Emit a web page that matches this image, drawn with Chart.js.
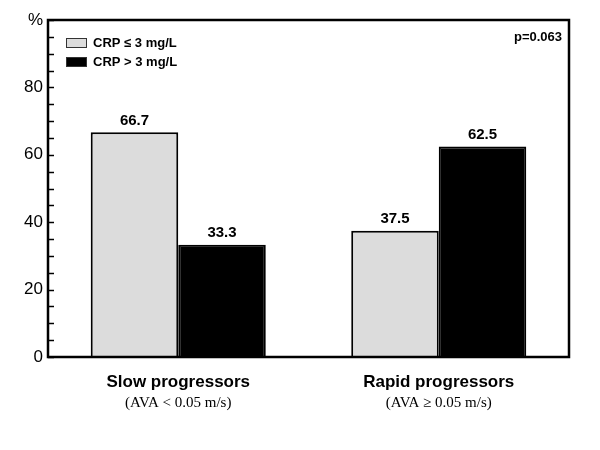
<!DOCTYPE html>
<html>
<head>
<meta charset="utf-8">
<script src="https://cdn.jsdelivr.net/npm/chart.js@4"></script>
<style>
html,body{margin:0;padding:0;background:#fff;}
#wrap{width:600px;height:450px;}
</style>
</head>
<body>
<div id="wrap"><canvas id="c" width="600" height="450"></canvas></div>
<script>
const categories = ['Slow progressors', 'Rapid progressors'];
const subLabels = ['(AVA < 0.05 m/s)', '(AVA \u2265 0.05 m/s)'];
const seriesNames = ['CRP \u2264 3 mg/L', 'CRP > 3 mg/L'];
const lowCRP = [66.7, 37.5];
const highCRP = [33.3, 62.5];
const yTickLabels = {0:'0', 20:'20', 40:'40', 60:'60', 80:'80', 100:'%'};
const pValue = 'p=0.063';

const SANS = '"Liberation Sans", Arial, Helvetica, sans-serif';
const SERIF = '"Liberation Serif", "Times New Roman", serif';

const decor = {
  id: 'decor',
  afterDatasetsDraw(chart) {
    const ctx = chart.ctx, a = chart.chartArea;
    const y = chart.scales.y, x = chart.scales.x;
    ctx.save();
    // inner tick marks
    ctx.strokeStyle = '#000';
    ctx.lineWidth = 1.5;
    for (let v = 0; v <= 100; v += 5) {
      const py = Math.round(y.getPixelForValue(v)) + 0.5;
      ctx.beginPath();
      ctx.moveTo(a.left, py);
      ctx.lineTo(a.left + 6, py);
      ctx.stroke();
    }
    // frame
    ctx.lineWidth = 2.5;
    ctx.strokeRect(a.left, a.top, a.right - a.left, a.bottom - a.top);
    // legend (inside plot, top-left)
    chart.data.datasets.forEach((ds, i) => {
      const bx = a.left + 18.5, by = a.top + 18.5 + i * 19;
      ctx.fillStyle = ds.backgroundColor;
      ctx.fillRect(bx, by, 20, 9);
      ctx.lineWidth = 1;
      ctx.strokeStyle = '#333';
      ctx.strokeRect(bx, by, 20, 9);
      ctx.fillStyle = '#000';
      ctx.font = 'bold 13px ' + SANS;
      ctx.textAlign = 'left';
      ctx.textBaseline = 'middle';
      ctx.fillText(ds.label, bx + 26.5, by + 5);
    });
    // value labels
    ctx.fillStyle = '#000';
    ctx.font = 'bold 15px ' + SANS;
    ctx.textAlign = 'center';
    ctx.textBaseline = 'bottom';
    chart.data.datasets.forEach((ds, i) => {
      chart.getDatasetMeta(i).data.forEach((bar, j) => {
        ctx.fillText(ds.data[j].toFixed(1), bar.x, bar.y - 4);
      });
    });
    // p value
    ctx.font = 'bold 13px ' + SANS;
    ctx.textAlign = 'right';
    ctx.textBaseline = 'middle';
    ctx.fillText(pValue, a.right - 7, a.top + 17);
    // sub labels
    ctx.font = '15px ' + SERIF;
    ctx.textAlign = 'center';
    ctx.textBaseline = 'middle';
    subLabels.forEach((s, i) => {
      ctx.fillText(s, x.getPixelForValue(i), a.bottom + 46);
    });
    ctx.restore();
  }
};

new Chart(document.getElementById('c'), {
  type: 'bar',
  data: {
    labels: categories,
    datasets: [
      { label: seriesNames[0], data: lowCRP, backgroundColor: '#dcdcdc', borderColor: '#000', borderWidth: 2, borderSkipped: 'bottom' },
      { label: seriesNames[1], data: highCRP, backgroundColor: '#000', borderColor: '#000', borderWidth: 2, borderSkipped: 'bottom' }
    ]
  },
  options: {
    responsive: false,
    animation: false,
    devicePixelRatio: 1,
    layout: { padding: { top: 20, right: 31, left: 0, bottom: 0 } },
    datasets: { bar: { categoryPercentage: 0.672, barPercentage: 1 } },
    plugins: {
      legend: { display: false },
      tooltip: { enabled: false }
    },
    scales: {
      x: {
        grid: { display: false, drawTicks: false },
        border: { display: false },
        ticks: { color: '#000', padding: 15, font: { family: SANS, size: 17, weight: 'bold' } },
        afterFit(s) { s.height = 93; }
      },
      y: {
        min: 0, max: 100,
        grid: { display: false, drawTicks: false },
        border: { display: false },
        ticks: {
          stepSize: 20, color: '#000', padding: 5,
          font: { family: SANS, size: 17 },
          callback: (v) => yTickLabels[v] !== undefined ? yTickLabels[v] : ''
        },
        afterFit(s) { s.width = 48; }
      }
    }
  },
  plugins: [decor]
});
</script>
</body>
</html>
